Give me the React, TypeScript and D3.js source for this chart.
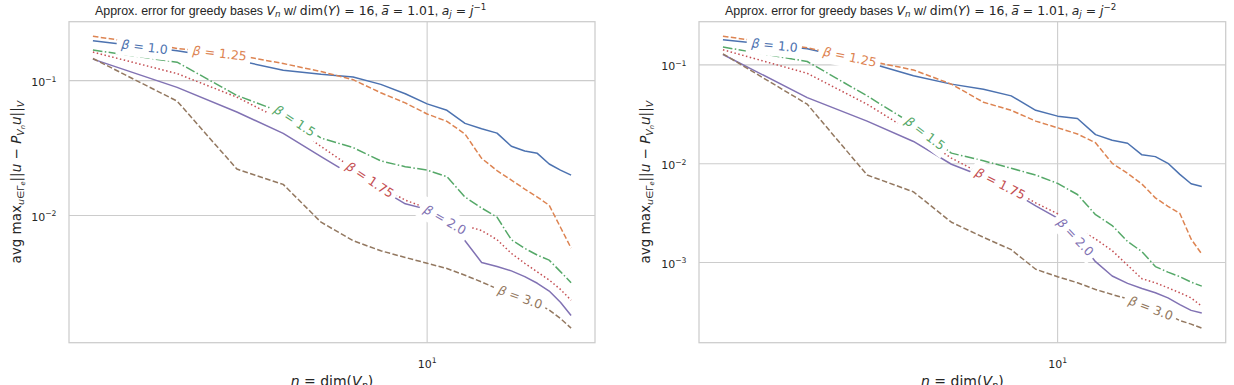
import React, { useEffect, useRef } from "react";
import * as d3 from "d3";

// n = dim(V_n)
const basisDims = [2, 3, 4, 5, 6, 7, 8, 9, 10, 11, 12, 13, 14, 15, 16, 17, 18, 19, 20];
const betaLabels = ["1.0", "1.25", "1.5", "1.75", "2.0", "3.0"];

// a_j = j^-1
const errJ1Beta100 = [0.198, 0.1667, 0.1419, 0.1195, 0.1115, 0.1065, 0.0939, 0.0799, 0.0673, 0.0603, 0.0482, 0.044, 0.0408, 0.0326, 0.0301, 0.0289, 0.0241, 0.0217, 0.0199];
const errJ1Beta125 = [0.2134, 0.1735, 0.1547, 0.134, 0.1168, 0.1017, 0.0813, 0.0684, 0.0566, 0.0499, 0.0402, 0.0265, 0.0215, 0.0183, 0.0157, 0.0137, 0.0119, 0.00818, 0.00573];
const errJ1Beta150 = [0.1686, 0.1371, 0.0777, 0.0576, 0.0375, 0.0319, 0.0254, 0.023, 0.0217, 0.0194, 0.0137, 0.01135, 0.00972, 0.00661, 0.0057, 0.00508, 0.00466, 0.00383, 0.00317];
const errJ1Beta175 = [0.1629, 0.1128, 0.0755, 0.0505, 0.0325, 0.0223, 0.0163, 0.013, 0.0113, 0.0097, 0.00842, 0.00772, 0.00661, 0.00523, 0.00442, 0.00381, 0.00332, 0.00283, 0.00235];
const errJ1Beta200 = [0.1444, 0.0892, 0.0586, 0.0406, 0.0273, 0.0197, 0.0157, 0.0122, 0.0111, 0.00912, 0.0065, 0.00448, 0.00418, 0.00388, 0.00352, 0.00314, 0.00275, 0.00227, 0.00181];
const errJ1Beta300 = [0.146, 0.0705, 0.0221, 0.017, 0.00891, 0.0065, 0.00547, 0.00488, 0.00442, 0.00404, 0.0036, 0.00321, 0.00286, 0.00262, 0.00241, 0.00221, 0.00199, 0.00172, 0.00146];

// a_j = j^-2
const errJ2Beta100 = [0.18, 0.1457, 0.1065, 0.0778, 0.0639, 0.0568, 0.0486, 0.0347, 0.0303, 0.0287, 0.0197, 0.01725, 0.0161, 0.0123, 0.0118, 0.0101, 0.00781, 0.00627, 0.00589];
const errJ2Beta125 = [0.1948, 0.1492, 0.1107, 0.0889, 0.0639, 0.0419, 0.0347, 0.027, 0.0231, 0.02, 0.0163, 0.0101, 0.008, 0.00622, 0.00451, 0.00371, 0.00314, 0.00173, 0.00122];
const errJ2Beta150 = [0.1516, 0.1082, 0.0486, 0.0249, 0.0128, 0.0107, 0.00899, 0.00769, 0.00632, 0.00488, 0.00305, 0.00237, 0.00163, 0.00129, 0.00091, 0.0008, 0.00072, 0.000634, 0.000577];
const errJ2Beta175 = [0.1423, 0.0822, 0.04, 0.0205, 0.0114, 0.00769, 0.00553, 0.00401, 0.00312, 0.00219, 0.00173, 0.00132, 0.000939, 0.000686, 0.000624, 0.000555, 0.000494, 0.000439, 0.000361];
const errJ2Beta200 = [0.1275, 0.0467, 0.027, 0.0168, 0.00988, 0.00739, 0.00532, 0.00374, 0.00282, 0.00173, 0.00102, 0.000731, 0.000615, 0.000547, 0.000494, 0.000439, 0.000375, 0.000328, 0.000308];
const errJ2Beta300 = [0.1295, 0.04, 0.00769, 0.00519, 0.00256, 0.0018, 0.00135, 0.000855, 0.000719, 0.000624, 0.000534, 0.000475, 0.000429, 0.000375, 0.000333, 0.000296, 0.000259, 0.000238, 0.000217];

const W = 1234;
const H = 385;
const SANS = "'Liberation Sans', Arial, Helvetica, sans-serif";
const MATH = "'DejaVu Sans', sans-serif";
const INK = "#262626";
const GRID = "#cccccc";
const palette = ["#4c72b0", "#dd8452", "#55a868", "#c44e52", "#8172b3", "#937860"];
const LW = 1.5;
const dashArrays = [
  null,
  `${3.7 * LW},${1.6 * LW}`,
  `${6.4 * LW},${1.6 * LW},${1 * LW},${1.6 * LW}`,
  `${1 * LW},${1.65 * LW}`,
  null,
  `${3.7 * LW},${1.6 * LW}`,
];

type Part = { t: string; it?: boolean; lvl?: number; ff?: string };

// Appends tspans for a small piece of math-like text.
// lvl: 0 base, 1 subscript, 2 second-level subscript, -1 superscript.
function addRich(text: any, parts: Part[], size: number) {
  let cur = 0;
  parts.forEach((p) => {
    const lvl = p.lvl ?? 0;
    const fs = lvl === 0 ? size : lvl === 2 ? size * 0.5 : size * 0.7;
    const off = lvl === 0 ? 0 : lvl === 1 ? size * 0.2 : lvl === 2 ? size * 0.32 : -size * 0.42;
    text
      .append("tspan")
      .attr("dy", off - cur)
      .attr("font-size", fs)
      .attr("font-style", p.it ? "italic" : "normal")
      .attr("font-family", p.ff ?? MATH)
      .text(p.t);
    cur = off;
  });
}

const titleParts = (exp: string): Part[] => [
  { t: "Approx. error for greedy bases ", ff: SANS },
  { t: "V", it: true },
  { t: "n", it: true, lvl: 1 },
  { t: " w/ ", ff: SANS },
  { t: "dim(" },
  { t: "Y", it: true },
  { t: ") = 16" },
  { t: ", ", ff: SANS },
  { t: "a\u0305", it: true },
  { t: " = 1.01" },
  { t: ", ", ff: SANS },
  { t: "a", it: true },
  { t: "j", it: true, lvl: 1 },
  { t: " = " },
  { t: "j", it: true },
  { t: exp, lvl: -1 },
];

const yLabelParts: Part[] = [
  { t: "avg max" },
  { t: "u", it: true, lvl: 1 },
  { t: "\u2208\u0393", lvl: 1 },
  { t: "e", it: true, lvl: 2 },
  { t: "||" },
  { t: "u", it: true },
  { t: " \u2212 " },
  { t: "P", it: true },
  { t: "V", it: true, lvl: 1 },
  { t: "n", it: true, lvl: 2 },
  { t: "u", it: true },
  { t: "||" },
  { t: "V", it: true, lvl: 1 },
];

const xLabelParts: Part[] = [
  { t: "n", it: true },
  { t: " = dim(" },
  { t: "V", it: true },
  { t: "n", it: true, lvl: 1 },
  { t: ")" },
];

const TOP = 21.7;
const BOTTOM = 342.7;

const panels = [
  {
    left: 69,
    right: 595,
    titleX: 95,
    ylabelX: 21,
    series: [errJ1Beta100, errJ1Beta125, errJ1Beta150, errJ1Beta175, errJ1Beta200, errJ1Beta300],
    exp: "\u22121",
  },
  {
    left: 699,
    right: 1225.7,
    titleX: 725,
    ylabelX: 650,
    series: [errJ2Beta100, errJ2Beta125, errJ2Beta150, errJ2Beta175, errJ2Beta200, errJ2Beta300],
    exp: "\u22122",
  },
];

function drawPanel(svg: any, p: (typeof panels)[number]) {
  const all = p.series.flat();
  const lLo = Math.log10(d3.min(all) as number);
  const lHi = Math.log10(d3.max(all) as number);
  const my = 0.05 * (lHi - lLo);
  const y = d3.scaleLog().domain([10 ** (lLo - my), 10 ** (lHi + my)]).range([BOTTOM, TOP]);
  const nLo = Math.log10(d3.min(basisDims) as number);
  const nHi = Math.log10(d3.max(basisDims) as number);
  const mx = 0.05 * (nHi - nLo);
  const x = d3.scaleLog().domain([10 ** (nLo - mx), 10 ** (nHi + mx)]).range([p.left, p.right]);

  const g = svg.append("g");
  g.append("rect")
    .attr("x", p.left)
    .attr("y", TOP)
    .attr("width", p.right - p.left)
    .attr("height", BOTTOM - TOP)
    .attr("fill", "#fff");

  // grid at decades
  const yDec = d3.range(Math.ceil(lLo - my), Math.floor(lHi + my) + 1);
  const xDec = d3.range(Math.ceil(nLo - mx), Math.floor(nHi + mx) + 1);
  g.selectAll(".gy")
    .data(yDec)
    .join("line")
    .attr("x1", p.left)
    .attr("x2", p.right)
    .attr("y1", (e: number) => y(10 ** e))
    .attr("y2", (e: number) => y(10 ** e))
    .attr("stroke", GRID)
    .attr("stroke-width", 1.1);
  g.selectAll(".gx")
    .data(xDec)
    .join("line")
    .attr("y1", TOP)
    .attr("y2", BOTTOM)
    .attr("x1", (e: number) => x(10 ** e))
    .attr("x2", (e: number) => x(10 ** e))
    .attr("stroke", GRID)
    .attr("stroke-width", 1.1);

  // tick labels
  yDec.forEach((e: number) => {
    const t = g
      .append("text")
      .attr("x", p.left - 12.5)
      .attr("y", y(10 ** e) + 5.5)
      .attr("text-anchor", "end")
      .attr("fill", INK)
      .style("white-space", "pre");
    addRich(t, [{ t: "10" }, { t: e < 0 ? `\u2212${-e}` : `${e}`, lvl: -1 }], 11);
  });
  xDec.forEach((e: number) => {
    const t = g
      .append("text")
      .attr("x", x(10 ** e))
      .attr("y", 368)
      .attr("text-anchor", "middle")
      .attr("fill", INK)
      .style("white-space", "pre");
    addRich(t, [{ t: "10" }, { t: `${e}`, lvl: -1 }], 11);
  });

  // lines
  const line = d3
    .line<number>()
    .x((_: number, i: number) => x(basisDims[i]))
    .y((v: number) => y(v));
  p.series.forEach((s, i) => {
    const path = g
      .append("path")
      .attr("d", line(s))
      .attr("fill", "none")
      .attr("stroke", palette[i])
      .attr("stroke-width", LW)
      .attr("stroke-linejoin", "round");
    if (dashArrays[i]) path.attr("stroke-dasharray", dashArrays[i]);
  });

  // inline labels, evenly spaced along the x axis
  p.series.forEach((s, i) => {
    const px = p.left + ((p.right - p.left) * (i + 1)) / 7;
    const xs = basisDims.map((n) => x(n));
    const ys = s.map((v) => y(v));
    let k = 0;
    while (k < xs.length - 2 && xs[k + 1] < px) k++;
    const f = (px - xs[k]) / (xs[k + 1] - xs[k]);
    const py = ys[k] + f * (ys[k + 1] - ys[k]);
    const ang = (Math.atan2(ys[k + 1] - ys[k], xs[k + 1] - xs[k]) * 180) / Math.PI;
    const lg = g.append("g").attr("transform", `translate(${px},${py}) rotate(${ang})`);
    const rect = lg.append("rect").attr("fill", "#fff");
    const t = lg.append("text").attr("fill", palette[i]).style("white-space", "pre");
    addRich(t, [{ t: "\u03b2", it: true }, { t: ` = ${betaLabels[i]}` }], 12.5);
    const bb = (t.node() as SVGTextElement).getBBox();
    t.attr("transform", `translate(${-(bb.x + bb.width / 2)},${-(bb.y + bb.height / 2)})`);
    const padX = 4;
    const padY = 3.5;
    rect
      .attr("x", -bb.width / 2 - padX)
      .attr("y", -bb.height / 2 - padY)
      .attr("width", bb.width + 2 * padX)
      .attr("height", bb.height + 2 * padY);
  });

  // frame
  g.append("rect")
    .attr("x", p.left)
    .attr("y", TOP)
    .attr("width", p.right - p.left)
    .attr("height", BOTTOM - TOP)
    .attr("fill", "none")
    .attr("stroke", GRID)
    .attr("stroke-width", 1.25);

  // title
  const tt = g
    .append("text")
    .attr("x", p.titleX)
    .attr("y", 15)
    .attr("fill", INK)
    .style("white-space", "pre");
  addRich(tt, titleParts(p.exp), 12.4);

  // axis labels
  const yl = g
    .append("text")
    .attr("transform", `translate(${p.ylabelX},${(TOP + BOTTOM) / 2}) rotate(-90)`)
    .attr("text-anchor", "middle")
    .attr("fill", INK)
    .style("white-space", "pre");
  addRich(yl, yLabelParts, 13.5);

  const xl = g
    .append("text")
    .attr("x", (p.left + p.right) / 2)
    .attr("y", 386)
    .attr("text-anchor", "middle")
    .attr("fill", INK)
    .style("white-space", "pre");
  addRich(xl, xLabelParts, 14);
}

export default function App() {
  const ref = useRef<SVGSVGElement>(null);
  useEffect(() => {
    const svg = d3.select(ref.current);
    svg.selectAll("*").remove();
    panels.forEach((p) => drawPanel(svg, p));
  }, []);
  return (
    <svg
      ref={ref}
      width={W}
      height={H}
      style={{ position: "absolute", left: 0, top: 0, background: "#fff" }}
    />
  );
}
